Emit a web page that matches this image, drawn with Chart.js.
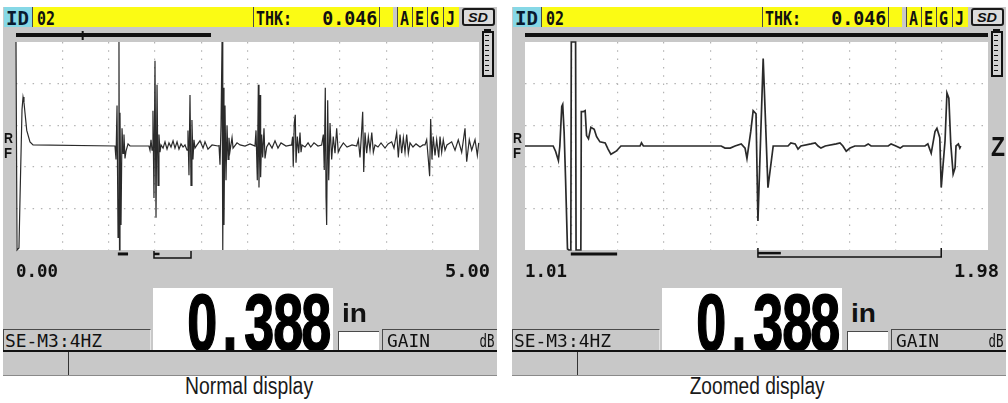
<!DOCTYPE html>
<html><head><meta charset="utf-8">
<script src="https://cdn.jsdelivr.net/npm/chart.js@4.4.0/dist/chart.umd.min.js"></script>
<style>
html,body{margin:0;padding:0;background:#fff;}
body{width:1008px;height:403px;position:relative;overflow:hidden;}
.a{position:absolute;box-sizing:border-box;}
canvas{position:absolute;}
</style></head>
<body>
<script>
// ---------------- DATA ----------------
// Normal display: time base 0.00 .. 5.00, amplitude in % of half screen
const leftRange = [0.00, 5.00];
const leftRangeLabels = ["0.00", "5.00"];
const leftGridX = [0,0.5,1,1.5,2,2.5,3,3.5,4,4.5,5];
const leftTime = [0.000,0.011,0.032,0.043,0.065,0.076,0.086,0.097,0.116,0.151,0.184,
1.069,1.080,1.091,1.102,1.112,1.118,1.123,1.134,1.145,1.156,1.166,1.177,1.188,1.210,1.231,
1.436,1.447,1.458,1.469,1.479,1.490,1.501,1.512,1.523,1.534,1.544,1.555,1.566,1.588,1.609,1.631,1.652,1.674,1.696,1.717,1.739,1.760,1.782,1.804,1.825,
1.847,1.857,1.868,1.879,1.890,1.900,1.911,1.922,1.933,1.955,1.987,2.020,2.041,2.073,2.117,2.182,
2.192,2.203,2.214,2.225,2.233,2.241,2.246,2.257,2.268,2.279,2.290,2.300,2.311,2.333,2.344,2.387,2.419,2.473,2.527,2.581,
2.592,2.606,2.617,2.624,2.635,2.642,2.653,2.664,2.678,2.689,2.707,2.732,2.765,2.797,2.829,2.862,2.916,
2.977,2.987,2.994,3.005,3.016,3.024,3.038,3.053,3.067,3.078,3.089,3.121,3.154,3.183,3.218,3.261,
3.301,3.319,3.329,3.340,3.348,3.355,3.366,3.377,3.391,3.409,3.426,3.445,3.463,3.480,3.499,3.535,3.575,3.629,
3.679,3.697,3.715,3.729,3.744,3.755,3.769,3.787,3.805,3.823,3.842,3.859,3.877,3.909,3.942,3.985,4.018,
4.057,4.082,4.111,4.129,4.147,4.165,4.183,4.201,4.219,4.237,4.255,4.287,4.320,4.363,4.395,
4.417,4.435,4.452,4.467,4.478,4.492,4.506,4.525,4.543,4.565,4.579,4.597,4.614,4.633,4.654,
4.705,4.741,4.776,4.813,4.849,4.867,4.895,4.921,4.957,4.982,4.997];
const leftAmp = [100,-100,-98,-52,35,47,42,32,15,4,1,
0,-13,39,-88,100,-100,32,-76,17,-7,11,-12,-5,2,0,
0,-4,6,-4,34,-50,82,-69,59,-38,11,-6,1,-2,4,-3,3,-1,5,-2,4,-3,2,-1,1,
-4,15,-28,49,-38,25,-13,6,-2,1,5,-2,4,-3,1,0,
1,-18,20,100,-100,56,-76,39,-33,20,-13,8,-5,8,-2,3,1,0,2,0,
15,-33,59,-40,49,-30,11,-11,17,-12,-1,3,-2,5,-2,3,0,
1,9,-20,22,30,-16,9,-7,13,-6,1,-1,3,-1,3,0,
1,11,-23,56,-49,-76,44,-33,22,-13,9,-7,17,-6,-2,3,-1,1,
0,6,-11,9,33,-25,13,-7,9,-4,13,-6,1,-1,3,-2,2,
4,-2,13,-11,11,-7,8,-6,11,-7,3,-1,2,-1,1,
1,6,-12,-29,26,-13,9,-9,6,-11,9,-6,6,-4,1,
4,-4,6,-6,17,-15,6,-4,6,-9,3];
const leftRangeBar = [0.00, 2.106];
const leftRangeMark = [0.72];
const leftGate1 = [1.10, 1.21];
const leftGate2 = [1.49, 1.89];
const leftGate2Mark = [1.49, 1.55];

// Zoomed display: time base 1.01 .. 1.98
const rightRange = [1.01, 1.98];
const rightRangeLabels = ["1.01", "1.98"];
const rightGridX = [1.01,1.107,1.204,1.301,1.398,1.495,1.592,1.689,1.786,1.883,1.98];
const rightTime = [1.010,1.069,1.074,1.080,1.083,1.087,1.089,1.092,1.095,1.099,1.102,1.106,1.107,1.116,1.117,1.127,1.128,1.132,1.136,1.139,1.143,1.148,1.155,1.160,1.167,1.178,1.184,1.190,1.201,1.211,1.251,1.254,1.258,1.421,1.429,1.440,1.450,1.463,1.471,1.475,1.483,1.488,1.494,1.498,1.509,1.519,1.530,1.561,1.567,1.576,1.582,1.588,1.609,1.618,1.624,1.630,1.639,1.662,1.670,1.676,1.683,1.691,1.701,1.722,1.729,1.735,1.771,1.777,1.787,1.796,1.802,1.848,1.854,1.861,1.869,1.873,1.879,1.882,1.890,1.894,1.898,1.902,1.907,1.911,1.913,1.918,1.921,1.923];
const rightAmp = [0,0,-5,-14,0,38,40,13,-32,-99,-100,-100,100,100,-100,-100,33,33,34,10,7,18,16,9,4,3,-3,-8,-5,0,0,3,0,0,-2,-2,0,2,-2,-12,14,34,31,-72,84,-40,0,0,3,2,-3,0,2,3,0,-2,0,2,3,0,-5,-2,0,0,2,0,0,2,0,-2,0,0,2,-7,14,17,8,-40,5,51,46,2,-27,-21,0,2,-2,0];
const rightRangeBar = [1.01, 1.98];
const rightGate1 = [1.106, 1.203];
const rightGate2 = [1.498, 1.882];
const rightGate2Mark = [1.498, 1.546];

const ampGridY = [-100,-60,-20,20,60,100];
const idText = "02";
const thkLabel = "THK:";
const thkValue = "0.046";
const flags = ["A","E","G","J"];
const reading = "0.388";
const unit = "in";
const probeText = "SE-M3:4HZ";
const captions = ["Normal display", "Zoomed display"];

// ---------------- HELPERS ----------------
const mctx = document.createElement('canvas').getContext('2d');
function measure(str, font){ mctx.font = font; return mctx.measureText(str).width; }
function box(x,y,w,h,css){ const d=document.createElement('div'); d.className='a';
  d.style.cssText += `left:${x}px;top:${y}px;width:${w}px;height:${h}px;`+(css||''); document.body.appendChild(d); return d; }
const MONO = '"DejaVu Sans Mono", "Liberation Mono", monospace';
const SANS = '"Liberation Sans", Arial, sans-serif';
const NARROW = '"Liberation Sans Narrow", "Liberation Sans", Arial, sans-serif';
function txt(x, base, str, fs, o){
  o = o || {};
  const fam = o.family || MONO, wt = o.weight || 'bold', st = o.style || 'normal';
  const font = `${st} ${wt} ${fs}px ${fam}`;
  const d = document.createElement('div'); d.textContent = str;
  d.style.cssText = `position:absolute;white-space:pre;font:${font};line-height:${fs}px;top:${base-0.846*fs}px;color:${o.color||'#111'};` + (o.css||'');
  const w = measure(str, font);
  let sx = o.sx || (o.w ? o.w / w : 1);
  if (o.align === 'right'){ d.style.left = (x-w)+'px'; d.style.transformOrigin='right center'; }
  else if (o.align === 'center'){ d.style.left = (x-w/2)+'px'; d.style.transformOrigin='center center'; }
  else { d.style.left = x+'px'; d.style.transformOrigin='left center'; }
  if (sx !== 1) d.style.transform = `scaleX(${sx})`;
  document.body.appendChild(d); return d;
}

const GRAY = '#c8c8c8', YEL = '#fbfb14', CYAN = '#86d8e6', DARK='#4a4a4a';

const bgPlugin = { id:'bg', beforeDraw(chart){ const a=chart.chartArea, c=chart.ctx; c.save(); c.fillStyle='#fff'; c.fillRect(a.left,a.top,a.right-a.left,a.bottom-a.top); c.restore(); } };

function seg(points, width, color){
  return { data: points, borderColor: color||'#111', borderWidth: width, pointRadius: 0, clip: false, tension: 0, borderCapStyle:'butt' };
}

function panel(P, cfg){
  // background
  box(P+3, 7, 494, 369, `background:${GRAY};`);
  // header
  box(P+4, 7, 28, 20, `background:${CYAN};`);
  txt(P+6, 25, "ID", 20, {w:23, color:'#0a1a30'});
  box(P+32, 7, 221, 20, `background:${YEL};border-left:1px solid ${DARK};`);
  txt(P+37, 25, idText, 20, {w:18});
  box(P+253, 7, 126, 20, `background:${YEL};border-left:1px solid ${DARK};`);
  txt(P+256, 25, thkLabel, 20, {w:36});
  txt(P+377, 25, thkValue, 20, {w:55, align:'right'});
  box(P+379, 7, 14, 20, `background:${YEL};border-left:1px solid ${DARK};`);
  const fx = [397, 412, 427, 443];
  flags.forEach((f,i)=>{
    box(P+fx[i], 7, (i<3?fx[i+1]:459)-fx[i], 20, `background:${YEL};border-left:1px solid ${DARK};`);
    txt(P+fx[i]+3, 25, f, 20, {w:9});
  });
  box(P+462, 8, 33, 18, `background:#dcdcdc;border:2px solid #1a1a1a;border-radius:3px;`);
  txt(P+468, 22, "SD", 13, {family:SANS, style:'italic', weight:'900', w:20});
  // level indicator
  box(P+482, 31, 12, 46, `background:#d4d4d4;border:2px solid #111;background-image:repeating-linear-gradient(to bottom,#111 0 1px,transparent 1px 5px);background-size:4px 100%;background-repeat:no-repeat;background-position:1px 2px;`);
  box(P+484, 29, 7, 3, `background:#111;`);

  // chart
  const cv = document.createElement('canvas');
  cv.width = 494; cv.height = 237;
  cv.style.cssText = `left:${P+3}px;top:28px;width:494px;height:237px;`;
  document.body.appendChild(cv);
  const wave = cfg.time.map((t,i)=>({x:t, y:cfg.amp[i]}));
  const ds = [
    { data: wave, borderColor:'#2a2a2a', borderWidth: cfg.lw, pointRadius:0, tension:0, clip:2 },
    seg([{x:cfg.bar[0],y:106.7},{x:cfg.bar[1],y:106.7}], 4),
    seg([{x:cfg.gate1[0],y:-103.8},{x:cfg.gate1[1],y:-103.8}], 3),
    seg([{x:cfg.gate2[0],y:cfg.bTop},{x:cfg.gate2[0],y:cfg.bLine},{x:cfg.gate2[1],y:cfg.bLine},{x:cfg.gate2[1],y:cfg.bTop}], 1.5),
    seg([{x:cfg.gate2Mark[0],y:cfg.bMark},{x:cfg.gate2Mark[1],y:cfg.bMark}], 2.5),
  ];
  if (cfg.mark) cfg.mark.forEach(m=>ds.push(seg([{x:m,y:110.6},{x:m,y:101.9}], 2)));
  const gridCol = n => (c => (c.index===0 || c.index===n-1) ? 'rgba(0,0,0,0)' : '#b4b4b4');
  new Chart(cv, {
    type:'line',
    data:{ datasets: ds },
    options:{
      responsive:false, animation:false, events:[], devicePixelRatio:1,
      layout:{ padding:{ left:13, right:18, top:14, bottom:15 } },
      plugins:{ legend:{display:false}, tooltip:{enabled:false} },
      scales:{
        x:{ type:'linear', min:cfg.range[0], max:cfg.range[1],
            afterBuildTicks: s => { s.ticks = cfg.gridX.map(v=>({value:v})); },
            afterFit: s => { s.height = 0; },
            ticks:{display:false}, grid:{ color: gridCol(cfg.gridX.length), drawTicks:false, lineWidth:1.2 },
            border:{display:false, dash:[1.5,6.8]} },
        y:{ type:'linear', min:-100, max:100,
            afterBuildTicks: s => { s.ticks = ampGridY.map(v=>({value:v})); },
            afterFit: s => { s.width = 0; },
            ticks:{display:false}, grid:{ color: gridCol(ampGridY.length), drawTicks:false, lineWidth:1.2 },
            border:{display:false, dash:[1.5,6.8]} }
      }
    },
    plugins:[bgPlugin]
  });

  // R F
  txt(P+4, 143, "R", 15, {family:SANS, w:9});
  txt(P+4, 158, "F", 15, {family:SANS, w:8});
  if (cfg.zoom) txt(P+482, 157, "Z", 28, {family:SANS, weight:'900', w:14});

  // range labels
  txt(P+16, 277, cfg.labels[0], 17, {w:42});
  txt(P+490, 277, cfg.labels[1], 17, {w:45, align:'right'});

  // reading box
  box(P+153, 288, 180, 62, 'background:#fff;');
  const dfont = `normal bold 80px ${NARROW}`;
  const sx = 30 / measure("0", dfont);
  [...reading].forEach((ch,i)=>{
    txt(P+202 + i*28.6, 351, ch, 80, {family:NARROW, sx:sx, align:'center', css:'-webkit-text-stroke:1.6px #000;color:#000;'});
  });
  txt(P+342, 322, unit, 26, {family:SANS, w:25});

  // status boxes
  box(P+3, 329, 148, 22, `border-top:1px solid ${DARK};border-left:1px solid ${DARK};border-right:1px solid #e6e6e6;`);
  txt(P+5, 347, probeText, 17, {weight:'normal', w:97});
  box(P+338, 331, 41, 20, `background:#fff;border-top:1px solid ${DARK};border-left:1px solid ${DARK};`);
  box(P+382, 329, 115, 22, `border-top:1px solid ${DARK};border-left:1px solid ${DARK};`);
  txt(P+387, 347, "GAIN", 17, {weight:'normal', w:43});
  txt(P+494, 347, "dB", 17, {weight:'normal', w:15, align:'right'});
  box(P+3, 350, 494, 2, 'background:#111;');
  box(P+68, 352, 1, 23, 'background:#333;');
  box(P+3, 375, 494, 1, 'background:#8a8a8a;');

  // caption
  txt(P+cfg.capX, 394, cfg.caption, 23, {family:NARROW, weight:'normal', align:'center', w:cfg.capW, color:'#1a1a1a'});
}

panel(0, { time:leftTime, amp:leftAmp, range:leftRange, gridX:leftGridX, labels:leftRangeLabels,
  bar:leftRangeBar, mark:leftRangeMark, gate1:leftGate1, gate2:leftGate2, gate2Mark:leftGate2Mark,
  bTop:-101, bLine:-107.7, bMark:-103.8, lw:1.2, zoom:false, caption:captions[0], capX:249, capW:128 });
panel(509, { time:rightTime, amp:rightAmp, range:rightRange, gridX:rightGridX, labels:rightRangeLabels,
  bar:rightRangeBar, mark:null, gate1:rightGate1, gate2:rightGate2, gate2Mark:rightGate2Mark,
  bTop:-98, bLine:-106.7, bMark:-103, lw:1.7, zoom:true, caption:captions[1], capX:248, capW:135 });
</script>
</body></html>
